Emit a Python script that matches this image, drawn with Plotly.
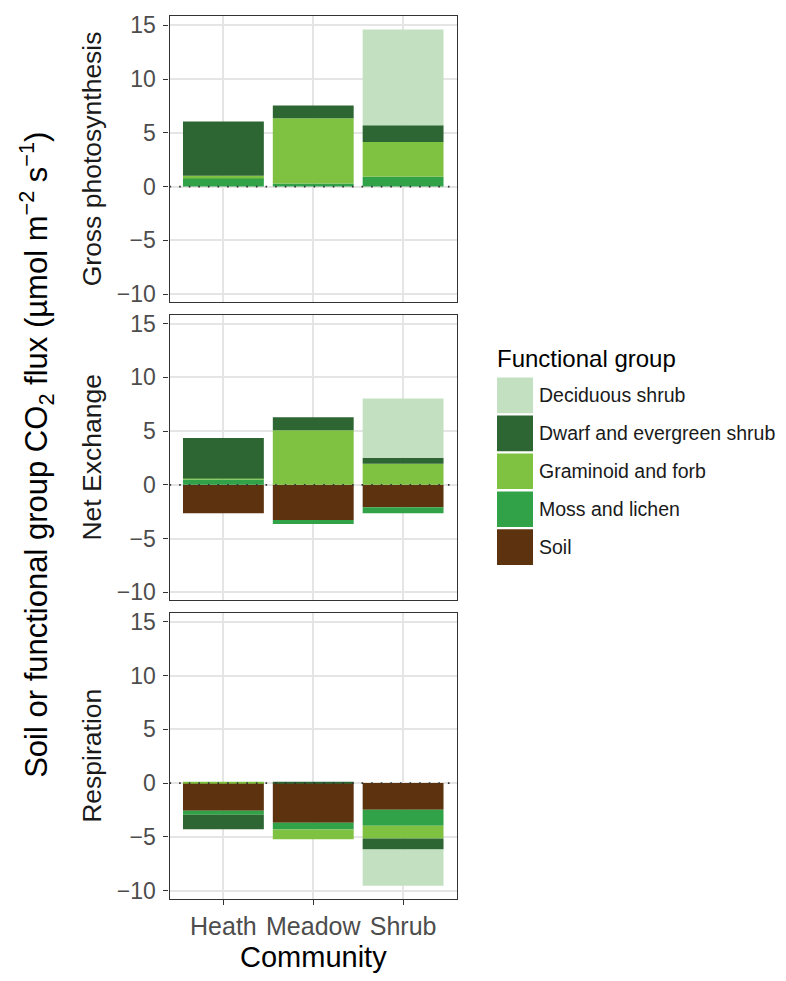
import plotly.graph_objects as go

# ---- data -------------------------------------------------------------
communities = ["Heath", "Meadow", "Shrub"]
panels = ["Gross photosynthesis", "Net Exchange", "Respiration"]
groups = ["Deciduous shrub", "Dwarf and evergreen shrub", "Graminoid and forb",
          "Moss and lichen", "Soil"]
group_colors = ["#C3E1C1", "#2D6633", "#7FC242", "#31A248", "#5D320F"]

# flux per functional group (umol m-2 s-1), one value per community
gpp_deciduous = [0.0, 0.0, 8.93]
gpp_dwarf = [5.06, 1.20, 1.56]
gpp_graminoid = [0.18, 6.07, 3.22]
gpp_moss = [0.83, 0.28, 0.92]
gpp_soil = [0.0, 0.0, 0.0]

nee_deciduous = [0.0, 0.0, 5.52]
nee_dwarf = [3.77, 1.20, 0.55]
nee_graminoid = [0.09, 5.09, 1.96]
nee_moss = [0.49, -0.37, -0.55]
nee_soil = [-2.64, -3.28, -2.09]

resp_deciduous = [0.0, 0.0, -3.38]
resp_dwarf = [-1.35, 0.05, -1.01]
resp_graminoid = [0.06, -0.89, -1.20]
resp_moss = [-0.37, -0.64, -1.47]
resp_soil = [-2.58, -3.69, -2.49]

y_ticks = [-10, -5, 0, 5, 10, 15]

panel_values = [
    [gpp_deciduous, gpp_dwarf, gpp_graminoid, gpp_moss, gpp_soil],
    [nee_deciduous, nee_dwarf, nee_graminoid, nee_moss, nee_soil],
    [resp_deciduous, resp_dwarf, resp_graminoid, resp_moss, resp_soil],
]

# ---- layout constants (pixels) ---------------------------------------
W, H = 786, 981
FONT = "Liberation Sans, Arial, sans-serif"
plot_left, plot_right = 169.5, 457
panel_px = [(12.5, 301), (313.5, 602), (614.5, 903)]
y_range = [-10.76, 15.84]
x_range = [-0.6, 2.6]


def px_x(p):
    return p / W


def px_y(p):
    return 1 - p / H


fig = go.Figure()

for pi, vals in enumerate(panel_values):
    xa = "x" if pi == 0 else f"x{pi + 1}"
    ya = "y" if pi == 0 else f"y{pi + 1}"
    # stacking: the last group sits next to zero, the first is outermost
    for gi in reversed(range(len(groups))):
        fig.add_trace(go.Bar(
            x=communities, y=vals[gi], name=groups[gi],
            marker=dict(color=group_colors[gi], line=dict(width=0)),
            width=0.9, xaxis=xa, yaxis=ya, showlegend=False,
            hoverinfo="x+y+name",
        ))

axis_common = dict(showgrid=True, gridcolor="#E5E5E5", gridwidth=1.8,
                   showline=True, linecolor="#333333", linewidth=1.1,
                   mirror=True, zeroline=False)

layout = dict(
    width=W, height=H, barmode="relative", bargap=0.1,
    plot_bgcolor="white", paper_bgcolor="white",
    margin=dict(l=0, r=0, t=0, b=0),
    font=dict(family=FONT, color="#4D4D4D"),
    showlegend=False,
)

for pi, (top, bot) in enumerate(panel_px):
    sfx = "" if pi == 0 else str(pi + 1)
    last = pi == len(panel_px) - 1
    layout[f"xaxis{sfx}"] = dict(
        axis_common, domain=[px_x(plot_left), px_x(plot_right)],
        range=x_range, anchor=f"y{sfx}",
        categoryorder="array", categoryarray=communities,
        showticklabels=last, ticks="outside" if last else "",
        ticklen=5, tickwidth=1.1, tickcolor="#333333",
        tickfont=dict(size=25, color="#4D4D4D", family=FONT),
        ticklabelstandoff=0,
    )
    layout[f"yaxis{sfx}"] = dict(
        axis_common, domain=[px_y(bot), px_y(top)], range=y_range,
        anchor=f"x{sfx}", tickvals=y_ticks, ticks="outside",
        ticklen=5, tickwidth=1.1, tickcolor="#333333",
        tickfont=dict(size=23, color="#4D4D4D", family=FONT),
        ticklabelstandoff=3,
    )

fig.update_layout(**layout)

# dotted reference line at zero in every panel
for pi in range(len(panel_px)):
    sfx = "" if pi == 0 else str(pi + 1)
    fig.add_shape(type="line", xref=f"x{sfx} domain", yref=f"y{sfx}",
                  x0=0, x1=1, y0=0, y1=0, layer="above",
                  line=dict(color="#333333", width=1.6, dash="1.6px,8px"))

# strip labels on the left of each panel
for pi, (top, bot) in enumerate(panel_px):
    fig.add_annotation(text=panels[pi], xref="paper", yref="paper",
                       x=px_x(92), y=px_y((top + bot) / 2), textangle=-90,
                       showarrow=False, xanchor="center", yanchor="middle",
                       font=dict(size=26.5, color="#1A1A1A", family=FONT))

# axis titles
fig.add_annotation(
    text="Soil or functional group CO<sub>2</sub> flux (\u00b5mol m<sup>\u22122</sup> s<sup>\u22121</sup>)",
    xref="paper", yref="paper", x=px_x(37), y=px_y(455), textangle=-90,
    showarrow=False, xanchor="center", yanchor="middle",
    font=dict(size=31, color="black", family=FONT))
fig.add_annotation(
    text="Community", xref="paper", yref="paper",
    x=px_x((plot_left + plot_right) / 2), y=px_y(962),
    showarrow=False, xanchor="center", yanchor="middle",
    font=dict(size=29, color="black", family=FONT))

# legend: colour keys with labels
leg_x, leg_top, key, pitch = 497, 377, 36, 38.3
fig.add_annotation(text="Functional group", xref="paper", yref="paper",
                   x=px_x(leg_x - 2), y=px_y(358), showarrow=False,
                   xanchor="left", yanchor="middle",
                   font=dict(size=24, color="black", family=FONT))
for gi, (g, c) in enumerate(zip(groups, group_colors)):
    t = leg_top + gi * pitch
    fig.add_shape(type="rect", xref="paper", yref="paper",
                  x0=px_x(leg_x), x1=px_x(leg_x + key),
                  y0=px_y(t + key), y1=px_y(t),
                  fillcolor=c, line=dict(width=0))
    fig.add_annotation(text=g, xref="paper", yref="paper",
                       x=px_x(leg_x + key + 4), y=px_y(t + key / 2),
                       showarrow=False, xanchor="left", yanchor="middle",
                       font=dict(size=19.5, color="#1A1A1A", family=FONT))

fig.write_html("out.html")
